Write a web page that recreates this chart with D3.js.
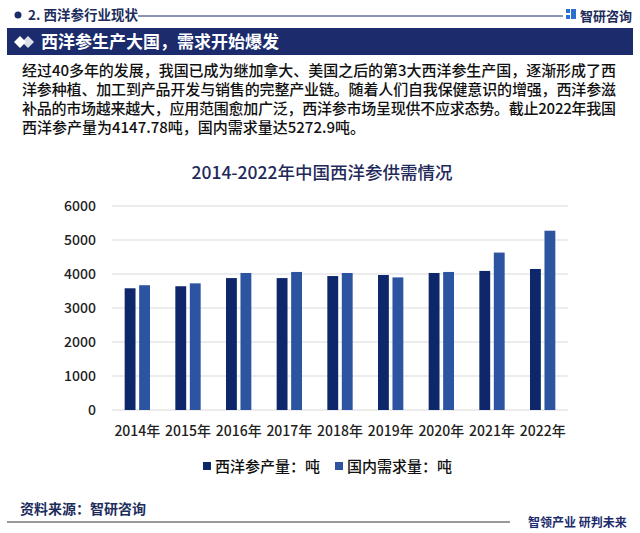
<!DOCTYPE html>
<html>
<head>
<meta charset="utf-8">
<script src="https://cdn.jsdelivr.net/npm/d3@7"></script>
<style>
  body { margin: 0; background: #fff; }
  svg { display: block; font-family: "Noto Sans CJK SC", "Noto Sans", sans-serif; }
</style>
</head>
<body>
<svg id="chart" width="640" height="533"></svg>
<script>
// data
const years = ["2014年", "2015年", "2016年", "2017年", "2018年", "2019年", "2020年", "2021年", "2022年"];
const seriesNames = ["西洋参产量：吨", "国内需求量：吨"];
const production = [3580, 3640, 3880, 3880, 3940, 3970, 4030, 4090, 4147.78];
const demand = [3670, 3725, 4030, 4060, 4030, 3900, 4060, 4630, 5272.9];
const yTicks = [0, 1000, 2000, 3000, 4000, 5000, 6000];
const paraLines = [
  "经过40多年的发展，我国已成为继加拿大、美国之后的第3大西洋参生产国，逐渐形成了西",
  "洋参种植、加工到产品开发与销售的完整产业链。随着人们自我保健意识的增强，西洋参滋",
  "补品的市场越来越大，应用范围愈加广泛，西洋参市场呈现供不应求态势。截止2022年我国",
  "西洋参产量为4147.78吨，国内需求量达5272.9吨。"
];

const colors = ["#0d276a", "#2c54a1"];
const navy = "#1b2b6b";

const svg = d3.select("#chart");

// 顶部标题
svg.append("circle").attr("cx", 18).attr("cy", 15).attr("r", 3.5).attr("fill", navy);
svg.append("text").attr("x", 28).attr("y", 20).attr("font-size", 13.5).attr("font-weight", 700)
  .attr("fill", "#1c2d5c").text("2. 西洋参行业现状");
svg.append("line").attr("x1", 138).attr("x2", 563).attr("y1", 16).attr("y2", 16)
  .attr("stroke", navy).attr("stroke-width", 1);
svg.append("rect").attr("x", 566).attr("y", 9).attr("width", 4).attr("height", 4).attr("fill", "#2d6fd1");
svg.append("rect").attr("x", 571).attr("y", 9).attr("width", 5).attr("height", 10).attr("fill", "#2d6fd1");
svg.append("rect").attr("x", 566).attr("y", 15).attr("width", 4).attr("height", 4).attr("fill", "#2d6fd1");
svg.append("text").attr("x", 580).attr("y", 21).attr("font-size", 13).attr("font-weight", 700)
  .attr("fill", "#1c2d5c").text("智研咨询");

// 标题栏
svg.append("rect").attr("x", 7).attr("y", 28).attr("width", 626).attr("height", 27).attr("fill", navy);
svg.append("path").attr("d", "M14,42 L20,36 L26,42 L20,48 Z").attr("fill", "#fff");
svg.append("path").attr("d", "M22,42 L28,36 L34,42 L28,48 Z").attr("fill", "#fff").attr("opacity", 0.85);
svg.append("text").attr("x", 41).attr("y", 48).attr("font-size", 17).attr("font-weight", 700)
  .attr("fill", "#fff").text("西洋参生产大国，需求开始爆发");

// 正文
svg.append("g").selectAll("text").data(paraLines).join("text")
  .attr("x", 22).attr("y", (d, i) => 76 + i * 19)
  .attr("font-size", 15).attr("font-weight", 500).attr("fill", "#111")
  .attr("textLength", (d, i) => i < 3 ? 594 : null)
  .attr("lengthAdjust", "spacing")
  .text(d => d);

// 图表标题
svg.append("text").attr("x", 322).attr("y", 179).attr("text-anchor", "middle")
  .attr("font-size", 17.5).attr("font-weight", 500).attr("fill", "#1f2a5a")
  .text("2014-2022年中国西洋参供需情况");

// 比例尺
const x0 = d3.scaleBand().domain(years).range([112, 568]).paddingInner(0.5).paddingOuter(0.25);
const x1 = d3.scaleBand().domain([0, 1]).range([0, x0.bandwidth()]).paddingInner(0.25);
const y = d3.scaleLinear().domain([0, 6000]).range([410, 206]);

// 网格线
svg.append("g").selectAll("line").data(yTicks).join("line")
  .attr("x1", 112).attr("x2", 568)
  .attr("y1", d => y(d)).attr("y2", d => y(d))
  .attr("stroke", "#d9d9d9").attr("stroke-width", 1);

// y轴
const yAxis = svg.append("g").attr("transform", "translate(102,0)")
  .call(d3.axisLeft(y).tickValues(yTicks).tickSize(0).tickPadding(6).tickFormat(d3.format("d")));
yAxis.select(".domain").remove();
yAxis.selectAll("text").attr("font-size", 14).attr("font-weight", 500).attr("fill", "#222")
  .attr("font-family", "\"Noto Sans CJK SC\", sans-serif");

// x轴
const xAxis = svg.append("g").attr("transform", "translate(0,410)")
  .call(d3.axisBottom(x0).tickSize(0).tickPadding(16));
xAxis.select(".domain").remove();
xAxis.selectAll("text").attr("font-size", 14).attr("font-weight", 500).attr("fill", "#222")
  .attr("font-family", "\"Noto Sans CJK SC\", sans-serif");

// 柱子
const groups = svg.append("g").selectAll("g").data(years).join("g")
  .attr("transform", d => `translate(${x0(d)},0)`);
groups.selectAll("rect")
  .data((d, i) => [production[i], demand[i]])
  .join("rect")
  .attr("x", (d, j) => x1(j))
  .attr("width", x1.bandwidth())
  .attr("y", d => y(d))
  .attr("height", d => y(0) - y(d))
  .attr("fill", (d, j) => colors[j]);

// 图例
const legendX = [203, 335];
const legend = svg.append("g").selectAll("g").data(seriesNames).join("g")
  .attr("transform", (d, i) => `translate(${legendX[i]},466)`);
legend.append("rect").attr("x", 0).attr("y", -4).attr("width", 8).attr("height", 8)
  .attr("fill", (d, i) => colors[i]);
legend.append("text").attr("x", 12).attr("y", 5.5).attr("font-size", 15).attr("font-weight", 500)
  .attr("fill", "#111").text(d => d);

// 底部
svg.append("text").attr("x", 20).attr("y", 514).attr("font-size", 14).attr("font-weight", 700)
  .attr("fill", "#1c2d5c").text("资料来源：智研咨询");
svg.append("line").attr("x1", 7).attr("x2", 510).attr("y1", 522).attr("y2", 522)
  .attr("stroke", "#333").attr("stroke-width", 1);
svg.append("text").attr("x", 528).attr("y", 527).attr("font-size", 12).attr("font-weight", 700)
  .attr("fill", navy).text("智领产业 研判未来");
</script>
</body>
</html>
